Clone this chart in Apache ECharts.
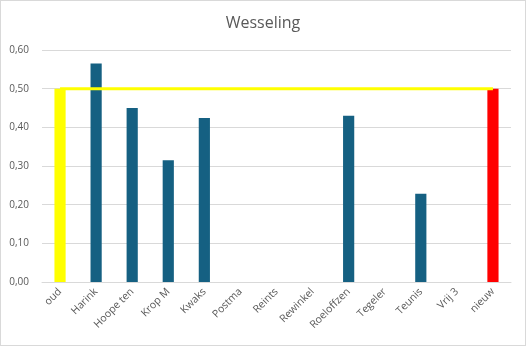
<!DOCTYPE html>
<html>
<head>
<meta charset="utf-8">
<script src="https://cdn.jsdelivr.net/npm/echarts@6/dist/echarts.min.js"></script>
<style>
  html, body { margin: 0; padding: 0; background: #fff; }
  #chart { width: 524px; height: 344px; border: 1px solid #d9d9d9; }
</style>
</head>
<body>
<div id="chart"></div>
<script>
// Scores per name, with the old and new reference levels at both ends
const categories = ['oud', 'Harink', 'Hoope ten', 'Krop M', 'Kwaks', 'Postma', 'Reints',
  'Rewinkel', 'Roeloffzen', 'Tegeler', 'Teunis', 'Vrij 3', 'nieuw'];
const scores = [0.50, 0.565, 0.45, 0.315, 0.424, 0, 0, 0, 0.43, 0, 0.228, 0, 0.50];
const referenceLevel = [0.50, 0.50, 0.50, 0.50, 0.50, 0.50, 0.50, 0.50, 0.50, 0.50, 0.50, 0.50, 0.50];
const yTicks = [0, 0.1, 0.2, 0.3, 0.4, 0.5, 0.6];

const barColor = '#156082';
const firstColor = '#ffff00';
const lastColor = '#ff0000';

const chart = echarts.init(document.getElementById('chart'));
const textColor = '#595959';
const fontFamily = 'Open Sans, Lato, sans-serif';

chart.setOption({
  animation: false,
  title: {
    text: 'Wesseling',
    left: 'center',
    top: 9,
    textStyle: { color: textColor, fontSize: 16, fontWeight: 'normal', fontFamily }
  },
  grid: { left: 41, right: 14, top: 49, bottom: 63 },
  xAxis: {
    type: 'category',
    data: categories,
    axisLine: { lineStyle: { color: '#d9d9d9', width: 1 } },
    axisTick: { show: false },
    axisLabel: {
      rotate: 45,
      interval: 0,
      color: textColor,
      fontSize: 10.5,
      fontFamily,
      margin: 8
    }
  },
  yAxis: {
    type: 'value',
    min: yTicks[0],
    max: yTicks[yTicks.length - 1],
    interval: 0.1,
    axisLine: { show: false },
    axisTick: { show: false },
    splitLine: { lineStyle: { color: '#d9d9d9', width: 1 } },
    axisLabel: {
      color: textColor,
      fontSize: 10,
      fontFamily,
      margin: 13,
      formatter: v => v.toFixed(2).replace('.', ',')
    }
  },
  series: [
    {
      type: 'bar',
      barWidth: '31%',
      data: scores.map((v, i) => ({
        value: v,
        itemStyle: {
          color: i === 0 ? firstColor : (i === categories.length - 1 ? lastColor : barColor)
        }
      }))
    },
    {
      type: 'line',
      data: referenceLevel,
      symbol: 'none',
      z: 3,
      lineStyle: { color: firstColor, width: 3 }
    }
  ]
});
</script>
</body>
</html>
